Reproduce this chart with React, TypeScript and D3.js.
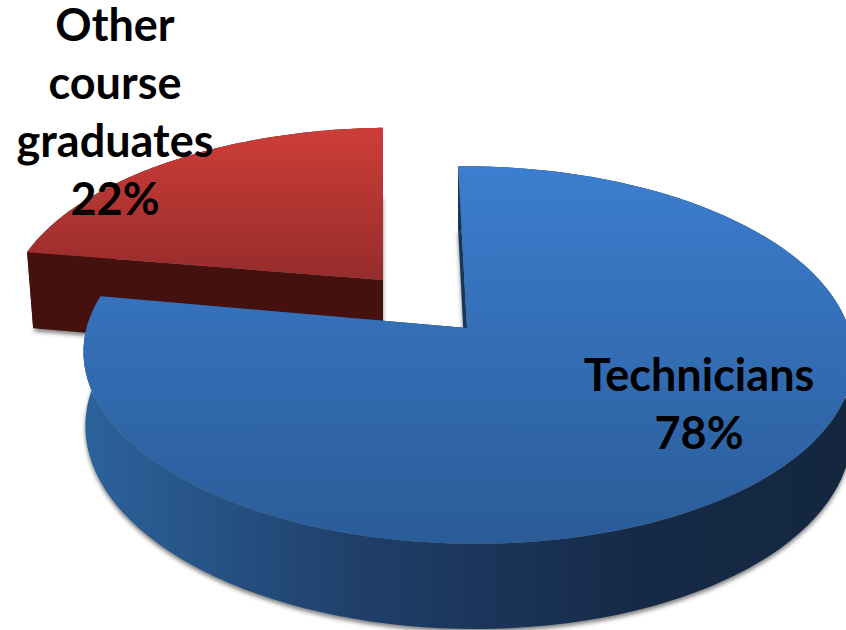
import React from 'react';
import * as d3 from 'd3';

// Chart data
const categories = ['Technicians', 'Other course graduates'];
const shares = [78, 22];
const labelLines = [['Technicians', '78%'], ['Other', 'course', 'graduates', '22%']];

const width = 846;
const height = 630;

// Perspective set-up of each slice (the 3D look of the office chart)
const views = [
  { cx: 467, cy: 328, rx: 381, ry: 185, depth: 73, lean: 0.055, k: 1 / 7, inset: 0.995, roll: 2 },
  { cx: 383, cy: 280, rx: 372, ry: 174, depth: 78, lean: 0, k: 1 / 7, inset: 0.983, roll: 4 }
];
const skins = [
  { top: 'url(#blueTop)', wall: 'url(#blueWall)', inner: '#17365a' },
  { top: 'url(#redTop)', wall: '#44110f', inner: '#44110f' }
];
const labelPos = [
  { x: 699, y: 391 },
  { x: 115, y: 41 }
];
const lineGap = 58;

type View = (typeof views)[number];

const project = (v: View, angle: number, r: number, drop: number): [number, number] => {
  const u = Math.sin(angle) * r;
  const w = Math.cos(angle) * r;
  const s = 1 / (1 + v.k * w);
  const dy = v.ry * w * s;
  const x = v.rx * u * s - v.lean * dy;
  const inset = drop > 0 ? v.inset : 1;
  return [v.cx + x * inset, v.cy - dy - v.roll * u + drop * v.depth * s];
};

const line = d3.line<[number, number]>();

const rim = (v: View, a0: number, a1: number, drop: number) =>
  d3.range(0, 121).map(i => project(v, a0 + ((a1 - a0) * i) / 120, 1, drop));

const face = (v: View, a0: number, a1: number, drop: number) =>
  line([project(v, 0, 0, drop), ...rim(v, a0, a1, drop)]) + 'Z';

const outerWall = (v: View, a0: number, a1: number) =>
  line([...rim(v, a0, a1, 0), ...rim(v, a0, a1, 1).reverse()]) + 'Z';

const radialWall = (v: View, a: number) =>
  line([project(v, a, 1, 0), project(v, 0, 0, 0), project(v, 0, 0, 1), project(v, a, 1, 1)]) + 'Z';

export default function App() {
  const arcs = d3.pie<number>().sort(null)(shares);

  return (
    <svg
      width={width}
      height={height}
      viewBox={`0 0 ${width} ${height}`}
      style={{ position: 'fixed', left: 0, top: 0, background: '#fff' }}
    >
      <defs>
        <linearGradient id="blueTop" gradientUnits="userSpaceOnUse" x1="0" y1="165" x2="0" y2="543">
          <stop offset="0" stopColor="#3c7ecf" />
          <stop offset="1" stopColor="#2a5c98" />
        </linearGradient>
        <linearGradient id="redTop" gradientUnits="userSpaceOnUse" x1="0" y1="128" x2="0" y2="282">
          <stop offset="0" stopColor="#cd3d38" />
          <stop offset="1" stopColor="#952c2b" />
        </linearGradient>
        <linearGradient id="blueWall" gradientUnits="userSpaceOnUse" x1="88" y1="0" x2="846" y2="0">
          <stop offset="0" stopColor="#2c629b" />
          <stop offset="0.36" stopColor="#1f3f69" />
          <stop offset="0.72" stopColor="#162a48" />
          <stop offset="1" stopColor="#14273f" />
        </linearGradient>
        <filter id="soft" x="-5%" y="-5%" width="110%" height="110%">
          <feGaussianBlur stdDeviation="2" />
        </filter>
      </defs>

      {/* red slice sits behind the blue one */}
      {[1, 0].map(i => {
        const v = views[i];
        const { startAngle: a0, endAngle: a1 } = arcs[i];
        const skin = skins[i];
        return (
          <g key={categories[i]}>
            <path d={face(v, a0, a1, 1)} transform="translate(0,3)" fill="#808080" filter="url(#soft)" />
            <path d={outerWall(v, a0, a1)} fill={skin.wall} />
            <path d={radialWall(v, a0)} fill={skin.inner} />
            <path d={radialWall(v, a1)} fill={skin.inner} />
            <path d={face(v, a0, a1, 0)} fill={skin.top} />
          </g>
        );
      })}

      {labelLines.map((lines, i) => (
        <text
          key={categories[i]}
          x={labelPos[i].x}
          y={labelPos[i].y}
          textAnchor="middle"
          fontFamily="Lato"
          fontWeight={700}
          fontSize={45}
          fill="#000"
        >
          {lines.map((t, j) => (
            <tspan key={t} x={labelPos[i].x} y={labelPos[i].y + j * lineGap}>
              {t}
            </tspan>
          ))}
        </text>
      ))}
    </svg>
  );
}
